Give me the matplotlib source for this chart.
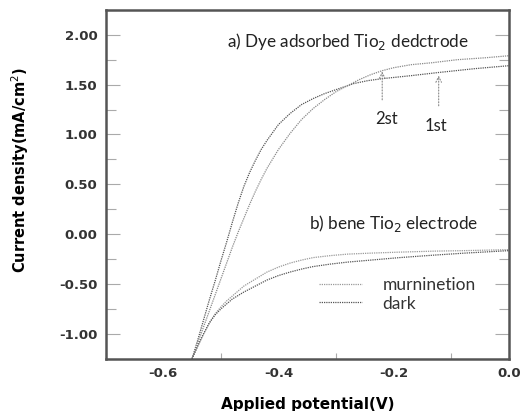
import numpy as np
import matplotlib
matplotlib.use("Agg")
import matplotlib.pyplot as plt
from matplotlib.ticker import MultipleLocator

# --- Data ---
# a) dye adsorbed TiO2 electrode, 1st run (steeper at first, ends lower)
a1_v = [-0.55, -0.54, -0.53, -0.52, -0.51, -0.50, -0.49, -0.48, -0.47, -0.46, -0.45, -0.44, -0.43,
        -0.42, -0.40, -0.38, -0.36, -0.34, -0.32, -0.30, -0.27, -0.245, -0.22, -0.17, -0.125, -0.06, 0.0]
a1_j = [-1.25, -1.06, -0.86, -0.66, -0.47, -0.27, -0.08, 0.12, 0.31, 0.48, 0.62, 0.74, 0.85,
        0.94, 1.10, 1.21, 1.30, 1.36, 1.41, 1.45, 1.51, 1.54, 1.56, 1.59, 1.62, 1.66, 1.69]
# 2nd run
a2_v = [-0.55, -0.54, -0.53, -0.52, -0.51, -0.50, -0.49, -0.48, -0.47, -0.46, -0.45, -0.44, -0.43,
        -0.42, -0.40, -0.38, -0.36, -0.34, -0.32, -0.30, -0.28, -0.26, -0.24, -0.22, -0.20, -0.17,
        -0.133, -0.09, -0.04, 0.0]
a2_j = [-1.25, -1.09, -0.93, -0.77, -0.61, -0.45, -0.29, -0.13, 0.02, 0.16, 0.30, 0.43, 0.55,
        0.66, 0.85, 1.01, 1.15, 1.26, 1.35, 1.43, 1.49, 1.55, 1.60, 1.64, 1.67, 1.70,
        1.72, 1.75, 1.77, 1.79]

# b) bare TiO2 electrode, illumination and dark
b_v = [-0.55, -0.54, -0.53, -0.52, -0.51, -0.50, -0.49, -0.48, -0.47, -0.46, -0.44, -0.42, -0.40,
       -0.38, -0.36, -0.34, -0.31, -0.28, -0.24, -0.19, -0.13, -0.077, 0.0]
b_light = [-1.25, -1.12, -1.00, -0.89, -0.80, -0.73, -0.67, -0.62, -0.57, -0.52, -0.45, -0.38, -0.33,
           -0.29, -0.26, -0.235, -0.215, -0.20, -0.19, -0.18, -0.17, -0.165, -0.155]
b_dark = [-1.25, -1.12, -1.00, -0.89, -0.81, -0.75, -0.70, -0.65, -0.615, -0.58, -0.52, -0.46, -0.415,
          -0.38, -0.35, -0.325, -0.30, -0.28, -0.26, -0.235, -0.21, -0.19, -0.165]

legend_labels = ["murninetion", "dark"]

x_ticks = [-0.6, -0.4, -0.2, 0.0]
x_tick_labels = ["-0.6", "-0.4", "-0.2", "0.0"]
y_ticks = [-1.0, -0.5, 0.0, 0.5, 1.0, 1.5, 2.0]
y_tick_labels = ["-1.00", "-0.50", "0.00", "0.50", "1.00", "1.50", "2.00"]

fig, ax = plt.subplots(figsize=(5.28, 4.11), dpi=100)
fig.subplots_adjust(left=0.2, right=0.964, top=0.976, bottom=0.127)

dots = (0, (1, 0.8))
ax.plot(a1_v, a1_j, color="#555555", lw=0.9, ls=dots)
ax.plot(a2_v, a2_j, color="#8a8a8a", lw=0.9, ls=dots)
ax.plot(b_v, b_light, color="#9a9a9a", lw=0.9, ls=dots, label=legend_labels[0])
ax.plot(b_v, b_dark, color="#555555", lw=0.9, ls=dots, label=legend_labels[1])

ax.set_xlim(-0.7, 0.0)
ax.set_ylim(-1.25, 2.25)

ax.set_xticks(x_ticks)
ax.set_xticklabels(x_tick_labels, fontweight="bold")
ax.set_yticks(y_ticks)
ax.set_yticklabels(y_tick_labels, fontweight="bold")
ax.xaxis.set_minor_locator(MultipleLocator(0.1))
ax.yaxis.set_minor_locator(MultipleLocator(0.25))

ax.tick_params(axis="both", which="both", direction="in", color="#aaaaaa", width=0.8,
               right=True, labelsize=9.5, labelcolor="#333333", pad=6)
ax.tick_params(axis="y", which="major", length=10)
ax.tick_params(axis="y", which="minor", length=7)
ax.tick_params(axis="x", which="major", length=0)
ax.tick_params(axis="x", which="minor", length=4)

for sp in ax.spines.values():
    sp.set_color("#555555")
    sp.set_linewidth(1.8)

ax.set_xlabel("Applied potential(V)", fontsize=11, fontweight="bold", labelpad=12)
ax.set_ylabel("Current density(mA/cm$^2$)", fontsize=10.5, fontweight="bold")
ax.yaxis.set_label_coords(-0.185, 0.54)

txt_font = ["Lato", "DejaVu Sans"]
ax.text(-0.28, 1.93, "a) Dye adsorbed Tio$_2$ dedctrode", fontsize=12.3, family=txt_font,
        ha="center", va="center", color="#222222")
ax.text(-0.2, 0.11, "b) bene Tio$_2$ electrode", fontsize=12.3, family=txt_font,
        ha="center", va="center", color="#222222")

ax.annotate("", xy=(-0.220, 1.66), xytext=(-0.220, 1.32),
            arrowprops=dict(arrowstyle="->", color="#888888", lw=0.8, ls=":"))
ax.annotate("", xy=(-0.122, 1.62), xytext=(-0.122, 1.26),
            arrowprops=dict(arrowstyle="->", color="#888888", lw=0.8, ls=":"))
ax.text(-0.213, 1.16, "2st", fontsize=12, family=txt_font, ha="center", va="center", color="#222222")
ax.text(-0.126, 1.09, "1st", fontsize=12, family=txt_font, ha="center", va="center", color="#222222")

leg = ax.legend(loc="center left", bbox_to_anchor=(0.49, 0.185), frameon=False,
                handlelength=2.5, handletextpad=1.15, labelspacing=0.15,
                prop={"family": txt_font, "size": 12.5})
for t in leg.get_texts():
    t.set_color("#333333")

fig.savefig("out.png", dpi=100)
